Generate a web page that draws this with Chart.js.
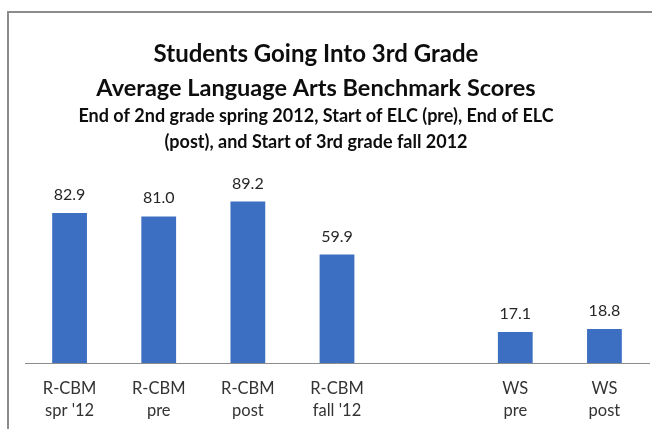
<!DOCTYPE html>
<html>
<head>
<meta charset="utf-8">
<script src="https://cdn.jsdelivr.net/npm/chart.js@4.4.1/dist/chart.umd.min.js"></script>
<style>
  html, body { margin: 0; padding: 0; background: #fff; overflow: hidden; }
  .wrap { position: relative; width: 652px; height: 429px; overflow: hidden; }
  .frame { position: absolute; left: 7px; top: 11px; right: -10px; bottom: -10px;
    border-top: 2px solid #8c8c8c; border-left: 2px solid #8c8c8c; }
  canvas { position: absolute; left: 0; top: 0; }
</style>
</head>
<body>
<div class="wrap">
  <div class="frame"></div>
  <canvas id="myChart" width="652" height="429"></canvas>
</div>
<script>
// data
const categories = [
  ['R-CBM', "spr '12"],
  ['R-CBM', 'pre'],
  ['R-CBM', 'post'],
  ['R-CBM', "fall '12"],
  '',
  ['WS', 'pre'],
  ['WS', 'post']
];
const scores = [82.9, 81.0, 89.2, 59.9, null, 17.1, 18.8];
const titleLines = ['Students Going Into 3rd Grade', 'Average Language Arts Benchmark Scores'];
const subtitleLines = ['End of 2nd grade spring 2012, Start of ELC (pre), End of ELC', '(post), and Start of 3rd grade fall 2012'];

const fontFamily = 'Lato, "Liberation Sans", sans-serif';

// heading is centred a bit left of the canvas middle, like the original
const headerPlugin = {
  id: 'header',
  afterDraw(chart) {
    const ctx = chart.ctx;
    const cx = 316;
    ctx.save();
    ctx.textAlign = 'center';
    ctx.textBaseline = 'alphabetic';
    ctx.fillStyle = '#0d0d0d';
    ctx.font = 'bold 24px ' + fontFamily;
    ctx.fillText(titleLines[0], cx, 62);
    ctx.font = 'bold 23.5px ' + fontFamily;
    ctx.fillText(titleLines[1], cx, 96);
    ctx.font = 'bold 18px ' + fontFamily;
    ctx.fillText(subtitleLines[0], cx, 122);
    ctx.fillText(subtitleLines[1], cx, 148);
    ctx.restore();
  }
};

const valueLabels = {
  id: 'valueLabels',
  afterDatasetsDraw(chart) {
    const ctx = chart.ctx;
    const meta = chart.getDatasetMeta(0);
    ctx.save();
    ctx.font = '16px ' + fontFamily;
    ctx.fillStyle = '#262626';
    ctx.textAlign = 'center';
    ctx.textBaseline = 'alphabetic';
    meta.data.forEach((bar, i) => {
      const v = scores[i];
      if (v === null) return;
      ctx.fillText(v.toFixed(1), bar.x, bar.y - 13);
    });
    ctx.restore();
  }
};

const ctx = document.querySelector('#myChart');
const myChart = new Chart(ctx, {
  type: 'bar',
  data: {
    labels: categories,
    datasets: [{
      label: 'Average score',
      data: scores,
      backgroundColor: '#3c6ec1',
      borderWidth: 0,
      categoryPercentage: 1,
      barPercentage: 0.39
    }]
  },
  options: {
    responsive: false,
    animation: false,
    layout: { padding: { top: 182, left: 25, right: 3, bottom: 0 } },
    plugins: {
      legend: { display: false },
      tooltip: { enabled: false }
    },
    scales: {
      x: {
        grid: { display: false, drawTicks: false },
        border: { display: true, color: '#8c8c8c', width: 1 },
        ticks: {
          color: '#333333',
          font: { family: fontFamily, size: 16.5, lineHeight: 1.3 },
          padding: 15,
          maxRotation: 0,
          autoSkip: false
        },
        afterFit(scale) { scale.height = 66; }
      },
      y: { display: false, min: 0, max: 100 }
    }
  },
  plugins: [headerPlugin, valueLabels]
});
</script>
</body>
</html>
